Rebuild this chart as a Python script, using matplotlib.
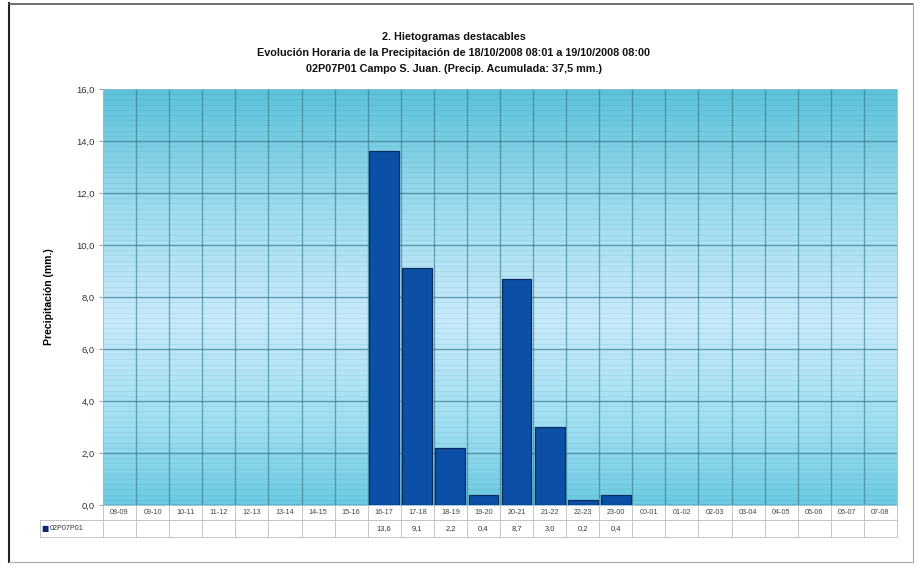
import numpy as np
import matplotlib
matplotlib.use("Agg")
import matplotlib.pyplot as plt
from matplotlib.colors import LinearSegmentedColormap
from matplotlib.lines import Line2D
import matplotlib.transforms as mtransforms

plt.rcParams['font.family'] = ['Liberation Sans', 'DejaVu Sans']

# data
categories = ['08-09', '09-10', '10-11', '11-12', '12-13', '13-14', '14-15', '15-16',
              '16-17', '17-18', '18-19', '19-20', '20-21', '21-22', '22-23', '23-00',
              '00-01', '01-02', '02-03', '03-04', '04-05', '05-06', '06-07', '07-08']
precip = [0, 0, 0, 0, 0, 0, 0, 0,
          13.6, 9.1, 2.2, 0.4, 8.7, 3.0, 0.2, 0.4,
          0, 0, 0, 0, 0, 0, 0, 0]
series_name = "02P07P01"
title_lines = ["2. Hietogramas destacables",
               "Evolución Horaria de la Precipitación de 18/10/2008 08:01 a 19/10/2008 08:00",
               "02P07P01 Campo S. Juan. (Precip. Acumulada: 37,5 mm.)"]
ylabel = "Precipitación (mm.)"
yticks = [0, 2, 4, 6, 8, 10, 12, 14, 16]

W, H = 920, 567
fig = plt.figure(figsize=(W / 100, H / 100), dpi=100)
ax = fig.add_axes([103 / W, 1 - 505 / H, (897 - 103) / W, (505 - 89) / H])

n = len(categories)
x = np.arange(n)
ax.set_xlim(-0.5, n - 0.5)
ax.set_ylim(0, 16)

# gradient background
cmap = LinearSegmentedColormap.from_list("bg", [
    (0.00, (0.42, 0.79, 0.88)),
    (0.18, (0.62, 0.87, 0.95)),
    (0.45, (0.78, 0.92, 0.98)),
    (0.72, (0.62, 0.86, 0.94)),
    (1.00, (0.36, 0.76, 0.85)),
])
grad = np.linspace(0, 1, 256).reshape(-1, 1)
ax.imshow(grad, cmap=cmap, aspect='auto', origin='lower',
          extent=(-0.5, n - 0.5, 0, 16), zorder=0)

# grid lines
for yv in np.arange(0.2, 16, 0.2):
    ax.axhline(yv, color='#2f7f95', lw=0.5, alpha=0.15, zorder=1)
for yv in yticks[1:-1]:
    ax.axhline(yv, color='#2a6f80', lw=1.0, alpha=0.6, zorder=1)
for xv in np.arange(0.5, n - 0.5, 1):
    ax.axvline(xv, color='#2a6f80', lw=1.0, alpha=0.55, zorder=1)

ax.bar(x, precip, width=0.9, color='#0b4fa6', edgecolor='#0a2b5e',
       linewidth=0.9, zorder=3)

for s in ax.spines.values():
    s.set_color('#8fbfcc')
    s.set_linewidth(0.6)

ax.set_yticks(yticks)
ax.set_yticklabels([f"{v:.1f}".replace('.', ',') for v in yticks],
                   fontsize=6.8, color='#333333')
ax.tick_params(axis='y', length=3, width=0.6, color='#888888', pad=3)
ax.set_xticks([])

ax.set_ylabel(ylabel, fontsize=7.5, fontweight='bold')
ax.yaxis.set_label_coords(-0.062, 0.5)

# data table under the plot
tr = mtransforms.blended_transform_factory(ax.transData, ax.transAxes)
ah = 505 - 89
r1 = -15 / ah
r2 = -32 / ah
lc = '#c4c4c4'
leg_x = -0.5 - 63 / (794 / n)
for xv in np.arange(-0.5, n + 0.5, 1):
    ax.add_line(Line2D([xv, xv], [0, r2], transform=tr, color=lc, lw=0.7, clip_on=False))
ax.add_line(Line2D([leg_x, n - 0.5], [r1, r1], transform=tr, color=lc, lw=0.7, clip_on=False))
ax.add_line(Line2D([leg_x, n - 0.5], [r2, r2], transform=tr, color=lc, lw=0.7, clip_on=False))
ax.add_line(Line2D([leg_x, leg_x], [r1, r2], transform=tr, color=lc, lw=0.7, clip_on=False))

for i, (c, v) in enumerate(zip(categories, precip)):
    ax.text(i, r1 / 2, c, transform=tr, ha='center', va='center',
            fontsize=5.2, color='#444444')
    if v > 0:
        ax.text(i, (r1 + r2) / 2, f"{v:.1f}".replace('.', ','), transform=tr,
                ha='center', va='center', fontsize=5.4, color='#333333')

ax.text(leg_x + 0.05, (r1 + r2) / 2, "\u25a0", transform=tr, ha='left', va='center',
        fontsize=5.5, color='#0b2a6e', family='DejaVu Sans')
ax.text(leg_x + 0.3, (r1 + r2) / 2, series_name, transform=tr, ha='left',
        va='center', fontsize=5.2, color='#333333')

# title
for k, t in enumerate(title_lines):
    fig.text(454 / W, 1 - (37 + 16 * k) / H, t, ha='center', va='center',
             fontsize=7.8, fontweight='bold', color='#111111')

# outer frame
fig.add_artist(Line2D([9 / W, 9 / W], [1 - 3 / H, 1 - 562 / H], color='#222222', lw=1.5))
fig.add_artist(Line2D([9 / W, 913 / W], [1 - 3.5 / H, 1 - 3.5 / H], color='#555555', lw=1.2))
fig.add_artist(Line2D([913 / W, 913 / W], [1 - 3 / H, 1 - 562 / H], color='#aaaaaa', lw=0.8))
fig.add_artist(Line2D([9 / W, 913 / W], [1 - 562 / H, 1 - 562 / H], color='#aaaaaa', lw=0.8))

fig.savefig("out.png", dpi=100)
